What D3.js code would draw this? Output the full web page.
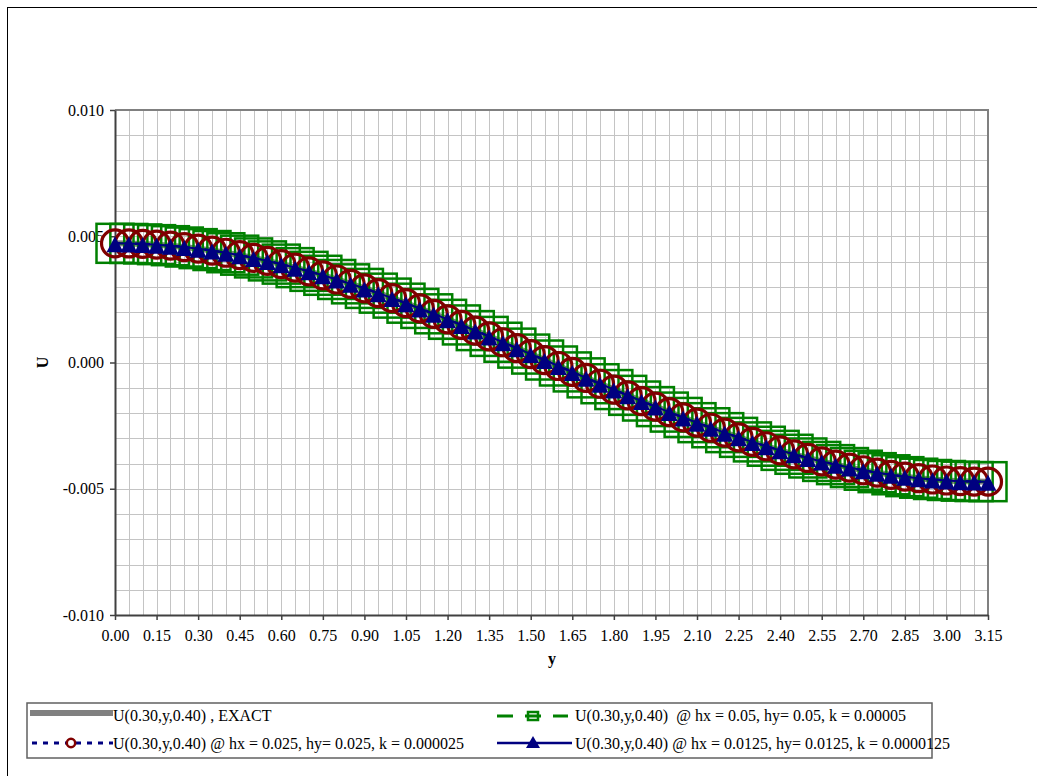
<!DOCTYPE html>
<html>
<head>
<meta charset="utf-8">
<script src="https://cdn.jsdelivr.net/npm/d3@7/dist/d3.min.js"></script>
<style>
  html, body { margin: 0; padding: 0; background: #ffffff; }
  svg { display: block; font-family: "Liberation Serif", "Times New Roman", serif; }
  text { white-space: pre; }
</style>
</head>
<body>
<script>
// y positions along the line x = 0.30, t = 0.40
const yValues = [0.00,0.05,0.10,0.15,0.20,0.25,0.30,0.35,0.40,0.45,0.50,0.55,0.60,0.65,0.70,0.75,
  0.80,0.85,0.90,0.95,1.00,1.05,1.10,1.15,1.20,1.25,1.30,1.35,1.40,1.45,1.50,1.55,
  1.60,1.65,1.70,1.75,1.80,1.85,1.90,1.95,2.00,2.05,2.10,2.15,2.20,2.25,2.30,2.35,
  2.40,2.45,2.50,2.55,2.60,2.65,2.70,2.75,2.80,2.85,2.90,2.95,3.00,3.05,3.10,3.15];

// U(0.30, y, 0.40), exact solution
const uExact = [0.004720,0.004714,0.004696,0.004667,0.004626,0.004573,0.004509,0.004434,
  0.004347,0.004250,0.004142,0.004024,0.003896,0.003757,0.003610,0.003454,
  0.003288,0.003115,0.002934,0.002746,0.002550,0.002349,0.002141,0.001928,
  0.001710,0.001488,0.001263,0.001034,0.000802,0.000569,0.000334,0.000098,
  -0.000138,-0.000373,-0.000608,-0.000841,-0.001072,-0.001301,-0.001526,-0.001747,
  -0.001964,-0.002176,-0.002383,-0.002584,-0.002778,-0.002965,-0.003145,-0.003317,
  -0.003480,-0.003635,-0.003781,-0.003918,-0.004045,-0.004161,-0.004267,-0.004363,
  -0.004447,-0.004521,-0.004583,-0.004634,-0.004673,-0.004700,-0.004716,-0.004720];

// hx = 0.05, hy = 0.05, k = 0.00005
const uH050 = [0.004720,0.004714,0.004696,0.004667,0.004626,0.004573,0.004509,0.004434,
  0.004347,0.004250,0.004142,0.004024,0.003896,0.003757,0.003610,0.003454,
  0.003288,0.003115,0.002934,0.002746,0.002550,0.002349,0.002141,0.001928,
  0.001710,0.001488,0.001263,0.001034,0.000802,0.000569,0.000334,0.000098,
  -0.000138,-0.000373,-0.000608,-0.000841,-0.001072,-0.001301,-0.001526,-0.001747,
  -0.001964,-0.002176,-0.002383,-0.002584,-0.002778,-0.002965,-0.003145,-0.003317,
  -0.003480,-0.003635,-0.003781,-0.003918,-0.004045,-0.004161,-0.004267,-0.004363,
  -0.004447,-0.004521,-0.004583,-0.004634,-0.004673,-0.004700,-0.004716,-0.004720];

// hx = 0.025, hy = 0.025, k = 0.000025
const uH025 = [0.004720,0.004714,0.004696,0.004667,0.004626,0.004573,0.004509,0.004434,
  0.004347,0.004250,0.004142,0.004024,0.003896,0.003757,0.003610,0.003454,
  0.003288,0.003115,0.002934,0.002746,0.002550,0.002349,0.002141,0.001928,
  0.001710,0.001488,0.001263,0.001034,0.000802,0.000569,0.000334,0.000098,
  -0.000138,-0.000373,-0.000608,-0.000841,-0.001072,-0.001301,-0.001526,-0.001747,
  -0.001964,-0.002176,-0.002383,-0.002584,-0.002778,-0.002965,-0.003145,-0.003317,
  -0.003480,-0.003635,-0.003781,-0.003918,-0.004045,-0.004161,-0.004267,-0.004363,
  -0.004447,-0.004521,-0.004583,-0.004634,-0.004673,-0.004700,-0.004716,-0.004720];

// hx = 0.0125, hy = 0.0125, k = 0.0000125
const uH0125 = [0.004720,0.004714,0.004696,0.004667,0.004626,0.004573,0.004509,0.004434,
  0.004347,0.004250,0.004142,0.004024,0.003896,0.003757,0.003610,0.003454,
  0.003288,0.003115,0.002934,0.002746,0.002550,0.002349,0.002141,0.001928,
  0.001710,0.001488,0.001263,0.001034,0.000802,0.000569,0.000334,0.000098,
  -0.000138,-0.000373,-0.000608,-0.000841,-0.001072,-0.001301,-0.001526,-0.001747,
  -0.001964,-0.002176,-0.002383,-0.002584,-0.002778,-0.002965,-0.003145,-0.003317,
  -0.003480,-0.003635,-0.003781,-0.003918,-0.004045,-0.004161,-0.004267,-0.004363,
  -0.004447,-0.004521,-0.004583,-0.004634,-0.004673,-0.004700,-0.004716,-0.004720];

const xTickValues = [0,0.15,0.30,0.45,0.60,0.75,0.90,1.05,1.20,1.35,1.50,1.65,1.80,1.95,2.10,2.25,2.40,2.55,2.70,2.85,3.00,3.15];
const xTickLabels = ["0.00","0.15","0.30","0.45","0.60","0.75","0.90","1.05","1.20","1.35","1.50","1.65","1.80","1.95","2.10","2.25","2.40","2.55","2.70","2.85","3.00","3.15"];
const yTickValues = [-0.010,-0.005,0.000,0.005,0.010];
const yTickLabels = ["-0.010","-0.005","0.000","0.005","0.010"];

const legendLabels = [
  "U(0.30,y,0.40) , EXACT",
  "U(0.30,y,0.40)  @ hx = 0.05, hy= 0.05, k = 0.00005",
  "U(0.30,y,0.40) @ hx = 0.025, hy= 0.025, k = 0.000025",
  "U(0.30,y,0.40) @ hx = 0.0125, hy= 0.0125, k = 0.0000125"
];

const W = 1037, H = 776;
const plot = { left: 115, right: 988, top: 110, bottom: 615 };
const FONT = "'Liberation Serif', 'Times New Roman', serif";

const GREEN = "#008000", NAVY = "#000080", MAROON = "#800000", GREY = "#808080";

const svg = d3.select("body").append("svg").attr("width", W).attr("height", H)
  .attr("font-family", FONT);
svg.append("rect").attr("width", W).attr("height", H).attr("fill", "#fff");

// chart area border
svg.append("rect").attr("x", 7.5).attr("y", 7.5).attr("width", W + 20).attr("height", H + 20)
  .attr("fill", "none").attr("stroke", "#000").attr("stroke-width", 1);

const x = d3.scaleLinear().domain([0, 3.15]).range([plot.left, plot.right]);
const y = d3.scaleLinear().domain([-0.010, 0.010]).range([plot.bottom, plot.top]);

// minor gridlines
const grid = svg.append("g").attr("stroke", "#c4c4c4").attr("stroke-width", 1);
const xGrid = d3.range(0, 64).map(i => +(i * 0.05).toFixed(2));
const yGrid = d3.range(-10, 11).map(i => i / 1000);
grid.selectAll("line.v").data(xGrid).join("line")
  .attr("x1", d => Math.round(x(d)) + 0.5).attr("x2", d => Math.round(x(d)) + 0.5)
  .attr("y1", plot.top).attr("y2", plot.bottom);
grid.selectAll("line.h").data(yGrid).join("line")
  .attr("y1", d => Math.round(y(d)) + 0.5).attr("y2", d => Math.round(y(d)) + 0.5)
  .attr("x1", plot.left).attr("x2", plot.right);

// plot frame (top and right)
svg.append("path")
  .attr("d", `M${plot.left},${plot.top}H${plot.right}V${plot.bottom}`)
  .attr("fill", "none").attr("stroke", GREY).attr("stroke-width", 2);

// axes
const xAxis = d3.axisBottom(x).tickValues(xTickValues)
  .tickFormat((d, i) => xTickLabels[i]).tickSize(5).tickSizeOuter(0).tickPadding(10);
const gx = svg.append("g").attr("transform", `translate(0,${plot.bottom})`).call(xAxis);

const yAxis = d3.axisLeft(y).tickValues(yTickValues)
  .tickFormat((d, i) => yTickLabels[i]).tickSize(5).tickSizeOuter(0).tickPadding(6);
const gy = svg.append("g").attr("transform", `translate(${plot.left},0)`).call(yAxis);

[gx, gy].forEach(g => {
  g.attr("font-family", FONT).attr("font-size", 16);
  g.select(".domain").attr("stroke", "#404040").attr("stroke-width", 2);
  g.selectAll(".tick line").attr("stroke", "#404040").attr("stroke-width", 1.5);
  g.selectAll(".tick text").attr("fill", "#000");
});

// axis titles
svg.append("text").attr("transform", `translate(48,${y(0)}) rotate(-90)`)
  .attr("text-anchor", "middle").attr("font-weight", "bold").attr("font-size", 16).text("U");
svg.append("text").attr("x", 552).attr("y", 664)
  .attr("text-anchor", "middle").attr("font-weight", "bold").attr("font-size", 16).text("y");

// series
const line = d3.line().x((d, i) => x(yValues[i])).y(d => y(d));

svg.append("path").datum(uExact).attr("d", line)
  .attr("fill", "none").attr("stroke", GREY).attr("stroke-width", 6);

// hx = 0.05 : green dashed line, open squares
svg.append("path").datum(uH050).attr("d", line)
  .attr("fill", "none").attr("stroke", GREEN).attr("stroke-width", 2.5).attr("stroke-dasharray", "12,8");
svg.append("g").selectAll("rect").data(uH050).join("rect")
  .attr("x", (d, i) => x(yValues[i]) - 18.5).attr("y", d => y(d) - 19.5)
  .attr("width", 37).attr("height", 39)
  .attr("fill", "none").attr("stroke", GREEN).attr("stroke-width", 2.5);

// hx = 0.025 : navy dashed line, open circles
svg.append("path").datum(uH025).attr("d", line)
  .attr("fill", "none").attr("stroke", NAVY).attr("stroke-width", 2.5).attr("stroke-dasharray", "5,5");
svg.append("g").selectAll("circle").data(uH025).join("circle")
  .attr("cx", (d, i) => x(yValues[i])).attr("cy", d => y(d)).attr("r", 13.5)
  .attr("fill", "none").attr("stroke", MAROON).attr("stroke-width", 3.2);

// hx = 0.0125 : navy solid line, filled triangles
const tri = (cx, cy, w, h) => `M${cx},${cy - h / 2}L${cx + w / 2},${cy + h / 2}L${cx - w / 2},${cy + h / 2}Z`;
svg.append("path").datum(uH0125).attr("d", line)
  .attr("fill", "none").attr("stroke", NAVY).attr("stroke-width", 2);
svg.append("g").selectAll("path").data(uH0125).join("path")
  .attr("d", (d, i) => tri(x(yValues[i]), y(d) + 1, 17, 16))
  .attr("fill", NAVY);

// legend
const lg = svg.append("g");
lg.append("rect").attr("x", 27).attr("y", 703).attr("width", 905).attr("height", 55)
  .attr("fill", "#fff").attr("stroke", "#606060").attr("stroke-width", 1.5);

const row1 = 713, row2 = 743;
// exact
lg.append("line").attr("x1", 30).attr("x2", 113).attr("y1", row1).attr("y2", row1)
  .attr("stroke", GREY).attr("stroke-width", 6);
// hx = 0.025
lg.append("line").attr("x1", 32).attr("x2", 113).attr("y1", row2).attr("y2", row2)
  .attr("stroke", NAVY).attr("stroke-width", 3).attr("stroke-dasharray", "5,6");
lg.append("circle").attr("cx", 71).attr("cy", row2).attr("r", 4.2)
  .attr("fill", "#fff").attr("stroke", MAROON).attr("stroke-width", 2.5);
// hx = 0.05
lg.append("line").attr("x1", 497).attr("x2", 568).attr("y1", row1 + 3).attr("y2", row1 + 3)
  .attr("stroke", GREEN).attr("stroke-width", 3).attr("stroke-dasharray", "16,12");
lg.append("rect").attr("x", 528).attr("y", row1 - 1).attr("width", 10).attr("height", 8)
  .attr("fill", "none").attr("stroke", GREEN).attr("stroke-width", 2.5);
// hx = 0.0125
lg.append("line").attr("x1", 497).attr("x2", 572).attr("y1", row2).attr("y2", row2)
  .attr("stroke", NAVY).attr("stroke-width", 2.5);
lg.append("path").attr("d", tri(533, row2 - 1, 14, 12)).attr("fill", NAVY);

const lt = [
  { x: 113, y: row1 + 8, t: legendLabels[0] },
  { x: 575, y: row1 + 8, t: legendLabels[1] },
  { x: 113, y: row2 + 6, t: legendLabels[2] },
  { x: 575, y: row2 + 6, t: legendLabels[3] }
];
lg.selectAll("text").data(lt).join("text")
  .attr("x", d => d.x).attr("y", d => d.y).attr("font-size", 16).attr("fill", "#000")
  .text(d => d.t);
</script>
</body>
</html>
